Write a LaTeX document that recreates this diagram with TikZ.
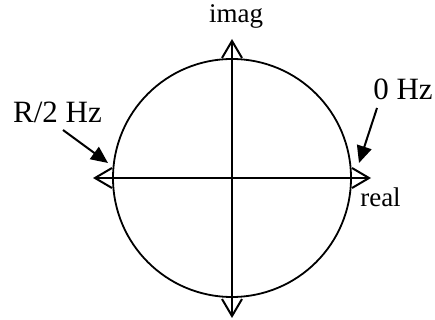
\documentclass[tikz,border=0pt]{standalone}
\usepackage{fontspec}
\setmainfont{Liberation Serif}
\usetikzlibrary{arrows.meta}
\begin{document}
\begin{tikzpicture}[x=1pt, y=1pt, line width=2pt,
    axis/.style={{Straight Barb[length=17pt,width=20pt]}-{Straight Barb[length=17pt,width=20pt]}},
    pointer/.style={-{Triangle[length=17pt,width=15pt]}, line width=2pt},
    biglabel/.style={font=\fontsize{31}{34}\selectfont, inner sep=0pt, anchor=base},
    smalllabel/.style={font=\fontsize{27}{30}\selectfont, inner sep=0pt, anchor=base}]
  \useasboundingbox (0,0) rectangle (435,320);
  \coordinate (O) at (232,142);
  \draw[line width=1.8pt] (O) circle (119);
  \coordinate (west) at (93,142);
  \coordinate (east) at (371,142);
  \coordinate (north) at (232,281);
  \coordinate (south) at (232,2);
  \draw[axis] (west) -- (east);
  \draw[axis] (south) -- (north);
  \node[smalllabel] (imag) at (236,297) {imag};
  \node[smalllabel] (real) at (380.5,113) {real};
  \node[biglabel] (zero) at (403,220) {0 Hz};
  \node[biglabel] (half) at (57.5,197) {R/2 Hz};
  \coordinate (zerofrom) at (377,212);
  \coordinate (zeroto) at (359,157);
  \coordinate (halffrom) at (63,190);
  \coordinate (halfto) at (108,157);
  \draw[pointer] (zerofrom) -- (zeroto);
  \draw[pointer] (halffrom) -- (halfto);
\end{tikzpicture}
\end{document}
